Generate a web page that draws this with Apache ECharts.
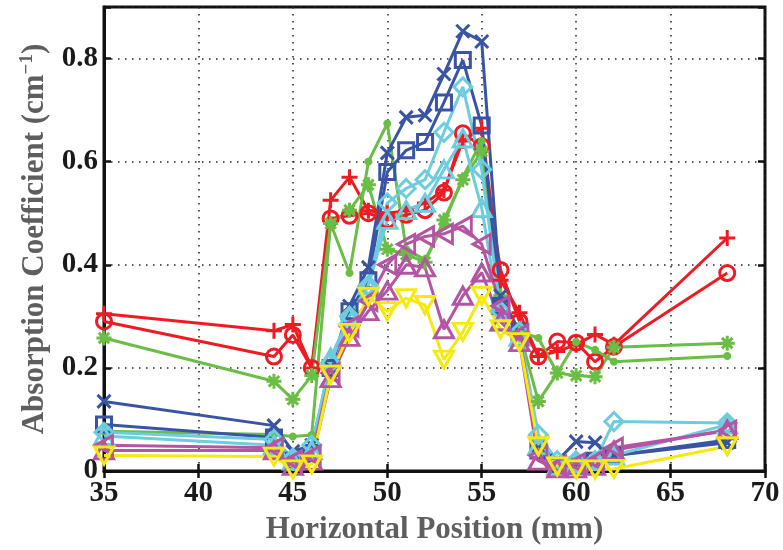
<!DOCTYPE html>
<html>
<head>
<meta charset="utf-8">
<script src="https://cdn.jsdelivr.net/npm/echarts@6/dist/echarts.min.js"></script>
<style>
html,body{margin:0;padding:0;background:#fff;}
#chart{width:783px;height:550px;}
</style>
</head>
<body>
<div id="chart"></div>
<script>
// Horizontal positions (mm)
const positions = [35,44,45,46,47,48,49,50,51,52,53,54,55,56,57,58,59,60,61,62,68];
// Absorption coefficient values (cm^-1)
const redPlus    = [0.305,0.272,0.284,0.200,0.525,0.570,0.505,0.500,0.505,0.520,0.545,0.640,0.665,0.370,0.307,0.222,0.232,0.245,0.265,0.245,0.452];
const redCircle  = [0.290,0.222,0.264,0.200,0.490,0.495,0.500,0.487,0.497,0.506,0.540,0.655,0.630,0.390,0.290,0.222,0.251,0.249,0.212,0.241,0.384];
const greenStar  = [0.258,0.174,0.139,0.185,0.480,0.506,0.555,0.430,0.420,0.405,0.487,0.565,0.620,0.340,0.270,0.135,0.190,0.185,0.183,0.240,0.248];
const greenDot   = [0.077,0.071,0.067,0.070,0.480,0.384,0.600,0.674,0.430,0.410,0.480,0.570,0.640,0.340,0.270,0.258,0.190,0.250,0.235,0.212,0.223];
const blueCross  = [0.135,0.088,0.038,0.050,0.200,0.320,0.395,0.617,0.686,0.690,0.770,0.853,0.833,0.340,0.270,0.050,0.020,0.057,0.055,0.030,0.055];
const blueSquare = [0.090,0.065,0.020,0.035,0.200,0.310,0.370,0.580,0.622,0.638,0.715,0.797,0.670,0.320,0.270,0.040,0.010,0.010,0.020,0.030,0.060];
const cyanDiamond= [0.075,0.061,0.025,0.050,0.210,0.300,0.360,0.520,0.548,0.565,0.657,0.745,0.585,0.310,0.270,0.070,0.020,0.020,0.020,0.096,0.093];
const cyanTriUp  = [0.068,0.050,0.020,0.040,0.220,0.300,0.360,0.487,0.506,0.520,0.585,0.645,0.510,0.290,0.260,0.050,0.010,0.015,0.020,0.030,0.090];
const magTriLeft = [0.050,0.045,0.020,0.030,0.190,0.280,0.330,0.400,0.440,0.455,0.460,0.475,0.440,0.320,0.265,0.030,0.010,0.015,0.020,0.045,0.078];
const magTriUp   = [0.040,0.040,0.010,0.020,0.180,0.260,0.310,0.350,0.400,0.395,0.275,0.340,0.385,0.290,0.250,0.020,0.005,0.005,0.010,0.040,0.080];
const yelTriDown = [0.030,0.028,0.003,0.013,0.187,0.268,0.338,0.310,0.335,0.322,0.216,0.270,0.340,0.275,0.250,0.048,0.009,0.003,0.003,0.004,0.048];

const xTicks = [35,40,45,50,55,60,65,70];
const yTicks = [0,0.2,0.4,0.6,0.8];

const RED='#ED1C24', GREEN='#6ABD45', BLUE='#3A54A4', CYAN='#6DCCDD', MAG='#B455A3', YEL='#F5E90F';
const PLUS='path://M0,-1L0,1M-1,0L1,0';
const CROSS='path://M-1,-1L1,1M-1,1L1,-1';
const STAR='path://M0,-1L0,1M-1,0L1,0M-0.7,-0.7L0.7,0.7M-0.7,0.7L0.7,-0.7';

function mk(name, vals, color, symbol, size, rotate, hollow){
  return {
    name, type:'line', data: positions.map((x,i)=>[x, vals[i]]),
    symbol, symbolSize:size, symbolRotate: rotate||0, showSymbol:true,
    lineStyle:{color, width:3},
    itemStyle: hollow ? {color:'rgba(0,0,0,0)', borderColor:color, borderWidth:3}
                      : {color, borderColor:color, borderWidth:3},
    emphasis:{disabled:true}, animation:false, z:2
  };
}

const series = [
  mk('r+', redPlus, RED, PLUS, 16, 0, false),
  mk('ro', redCircle, RED, 'circle', 15, 0, true),
  mk('g*', greenStar, GREEN, STAR, 15, 0, false),
  mk('g.', greenDot, GREEN, 'circle', 5, 0, false),
  mk('bx', blueCross, BLUE, CROSS, 13, 0, false),
  mk('bs', blueSquare, BLUE, 'rect', 15, 0, true),
  mk('cd', cyanDiamond, CYAN, 'diamond', 18, 0, true),
  mk('c^', cyanTriUp, CYAN, 'triangle', [19,17], 0, true),
  mk('m<', magTriLeft, MAG, 'triangle', [19,17], 90, true),
  mk('m^', magTriUp, MAG, 'triangle', [19,17], 0, true),
  mk('yv', yelTriDown, YEL, 'triangle', [19,17], 180, true)
];

const labelFont = {color:'#1a1a1a', fontFamily:'Liberation Serif', fontWeight:'bold', fontSize:29};
const titleFont = {color:'#5e5e5e', fontFamily:'Liberation Serif', fontWeight:'bold', fontSize:31};
const grid = {lineStyle:{color:'#222', type:[1.5,5.5], width:1.5}};

const chart = echarts.init(document.getElementById('chart'), null, {renderer:'canvas'});
chart.setOption({
  animation:false,
  backgroundColor:'#fff',
  grid:{left:104, right:18, top:7, bottom:78, show:true, borderColor:'#111', borderWidth:3, backgroundColor:'#fff'},
  xAxis:[{
    type:'value', min:xTicks[0], max:xTicks[xTicks.length-1], interval:5, position:'bottom',
    axisLine:{show:true, onZero:false, lineStyle:{color:'#111', width:3}},
    axisTick:{show:true, inside:true, length:7, lineStyle:{color:'#111', width:2.5}},
    axisLabel:Object.assign({margin:8}, labelFont),
    splitLine:Object.assign({show:true}, grid),
    name:'Horizontal Position (mm)', nameLocation:'middle', nameGap:43, nameTextStyle:titleFont
  },{
    type:'value', min:xTicks[0], max:xTicks[xTicks.length-1], interval:5, position:'top',
    axisLine:{show:false}, axisTick:{show:true, inside:true, length:7, lineStyle:{color:'#111', width:2.5}},
    axisLabel:{show:false}, splitLine:{show:false}
  }],
  yAxis:[{
    type:'value', min:0, max:0.9, interval:0.2, position:'left',
    axisLine:{show:true, onZero:false, lineStyle:{color:'#111', width:3}},
    axisTick:{show:true, inside:true, length:7, lineStyle:{color:'#111', width:2.5}},
    axisLabel:Object.assign({margin:6, formatter:v => yTicks.some(t=>Math.abs(t-v)<1e-6) ? String(+v.toFixed(1)) : ''}, labelFont),
    splitLine:Object.assign({show:true}, grid),
    name:'{t|Absorption Coefficient (cm}{s|−1}{t|)}', nameLocation:'middle', nameGap:50,
    nameTextStyle:{rich:{
      t:titleFont,
      s:{color:'#5e5e5e', fontFamily:'Liberation Serif', fontWeight:'bold', fontSize:19, verticalAlign:'bottom', padding:[0,0,16,0]}
    }}
  },{
    type:'value', min:0, max:0.9, interval:0.2, position:'right',
    axisLine:{show:false}, axisTick:{show:true, inside:true, length:7, lineStyle:{color:'#111', width:2.5}},
    axisLabel:{show:false}, splitLine:{show:false}
  }],
  series
});
</script>
</body>
</html>
